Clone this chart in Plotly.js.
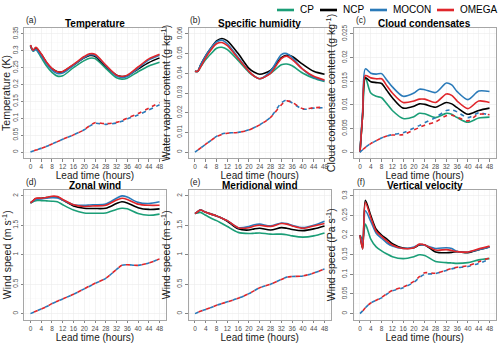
<!DOCTYPE html>
<html>
<head>
<meta charset="utf-8">
<script src="https://cdn.plot.ly/plotly-3.0.1.min.js"></script>
<style>html,body{margin:0;padding:0;background:#fff}#chart{width:500px;height:343px}</style>
</head>
<body>
<div id="chart"></div>
<script>
// lead times (hours) the curves were read at
var lead = [0, 1, 2, 4, 6, 8, 10, 12, 16, 20, 22, 24, 28, 32, 34, 36, 40, 44, 48];

// (a) temperature (K)
var tempCP    = [0.314, 0.299, 0.304, 0.280, 0.255, 0.236, 0.225, 0.226, 0.250, 0.271, 0.278, 0.277, 0.248, 0.220, 0.216, 0.219, 0.238, 0.255, 0.266];
var tempNCP   = [0.316, 0.301, 0.309, 0.290, 0.265, 0.247, 0.238, 0.238, 0.258, 0.279, 0.286, 0.284, 0.254, 0.228, 0.224, 0.226, 0.246, 0.265, 0.279];
var tempMOCON = [0.315, 0.300, 0.303, 0.285, 0.262, 0.243, 0.233, 0.234, 0.257, 0.280, 0.288, 0.287, 0.256, 0.225, 0.221, 0.224, 0.248, 0.273, 0.287];
var tempOMEGA = [0.317, 0.302, 0.310, 0.291, 0.266, 0.248, 0.238, 0.239, 0.260, 0.283, 0.291, 0.290, 0.258, 0.228, 0.224, 0.228, 0.252, 0.276, 0.290];
var tempMOCONd = [0, 0.003, 0.006, 0.011, 0.017, 0.024, 0.031, 0.038, 0.051, 0.066, 0.077, 0.085, 0.082, 0.086, 0.091, 0.098, 0.110, 0.125, 0.140];
var tempOMEGAd = [0, 0.003, 0.006, 0.011, 0.017, 0.024, 0.031, 0.038, 0.051, 0.066, 0.078, 0.087, 0.084, 0.088, 0.093, 0.101, 0.114, 0.130, 0.147];

// (b) specific humidity
var qCP    = [0.041, 0.041, 0.043, 0.047, 0.050, 0.0527, 0.0532, 0.052, 0.0465, 0.0405, 0.0385, 0.0372, 0.040, 0.0443, 0.0447, 0.0438, 0.040, 0.0375, 0.0358];
var qNCP   = [0.041, 0.041, 0.044, 0.049, 0.053, 0.0565, 0.0577, 0.0565, 0.050, 0.0425, 0.0405, 0.0395, 0.0415, 0.048, 0.0492, 0.0485, 0.0445, 0.041, 0.0395];
var qMOCON = [0.041, 0.041, 0.044, 0.049, 0.053, 0.056, 0.0568, 0.055, 0.048, 0.041, 0.0385, 0.0372, 0.041, 0.0495, 0.050, 0.048, 0.042, 0.038, 0.0362];
var qOMEGA = [0.041, 0.041, 0.043, 0.048, 0.052, 0.055, 0.0556, 0.054, 0.0475, 0.041, 0.0385, 0.0372, 0.040, 0.0475, 0.0487, 0.047, 0.042, 0.0385, 0.0366];
var qMOCONd = [0, 0.001, 0.002, 0.004, 0.006, 0.008, 0.0092, 0.0097, 0.010, 0.0113, 0.0125, 0.0139, 0.0177, 0.025, 0.0265, 0.025, 0.0218, 0.0223, 0.0226];
var qOMEGAd = [0, 0.001, 0.002, 0.004, 0.006, 0.0078, 0.009, 0.0096, 0.010, 0.0112, 0.0124, 0.0138, 0.0176, 0.024, 0.026, 0.0252, 0.022, 0.0225, 0.0228];

// (c) cloud condensates
var cwCP    = [0, 0.008, 0.0158, 0.0125, 0.0118, 0.0115, 0.0102, 0.0088, 0.0071, 0.0075, 0.0082, 0.0081, 0.0073, 0.0082, 0.0080, 0.0073, 0.0063, 0.0072, 0.0074];
var cwNCP   = [0, 0.008, 0.0157, 0.0149, 0.0147, 0.0145, 0.0130, 0.0115, 0.0093, 0.0097, 0.0102, 0.0101, 0.0095, 0.0105, 0.0102, 0.0094, 0.0080, 0.0088, 0.0093];
var cwMOCON = [0, 0.009, 0.0176, 0.0167, 0.0165, 0.0166, 0.0152, 0.0138, 0.0118, 0.0125, 0.0133, 0.0132, 0.0126, 0.0146, 0.0142, 0.0128, 0.0111, 0.0129, 0.0128];
var cwOMEGA = [0, 0.008, 0.0162, 0.0157, 0.0155, 0.0155, 0.0140, 0.0125, 0.0105, 0.0108, 0.0112, 0.0112, 0.0105, 0.0123, 0.0120, 0.0108, 0.0092, 0.0108, 0.0105];
var cwMOCONd = [0, 0.0005, 0.001, 0.0018, 0.0024, 0.003, 0.0034, 0.0037, 0.0041, 0.0051, 0.0056, 0.0062, 0.0073, 0.0088, 0.0089, 0.0085, 0.0073, 0.0083, 0.0078];
var cwOMEGAd = [0, 0.0005, 0.001, 0.0018, 0.0024, 0.003, 0.0034, 0.0036, 0.0037, 0.0047, 0.0052, 0.0057, 0.0064, 0.0077, 0.0078, 0.0074, 0.0066, 0.0080, 0.0079];

// (d) zonal wind
var uCP    = [1.88, 1.90, 1.92, 1.92, 1.915, 1.91, 1.90, 1.85, 1.76, 1.71, 1.705, 1.705, 1.71, 1.77, 1.79, 1.78, 1.70, 1.67, 1.69];
var uNCP   = [1.88, 1.92, 1.95, 1.96, 1.97, 1.985, 1.98, 1.93, 1.83, 1.79, 1.785, 1.785, 1.79, 1.87, 1.90, 1.88, 1.80, 1.77, 1.78];
var uMOCON = [1.88, 1.91, 1.94, 1.95, 1.96, 1.97, 1.965, 1.93, 1.85, 1.84, 1.845, 1.85, 1.86, 1.96, 2.00, 1.98, 1.89, 1.87, 1.90];
var uOMEGA = [1.88, 1.92, 1.96, 1.96, 1.975, 1.995, 1.99, 1.94, 1.85, 1.82, 1.825, 1.83, 1.84, 1.93, 1.96, 1.94, 1.86, 1.84, 1.84];
var uMOCONd = [0, 0.02, 0.04, 0.08, 0.12, 0.17, 0.21, 0.25, 0.33, 0.42, 0.465, 0.51, 0.60, 0.75, 0.82, 0.83, 0.82, 0.86, 0.93];
var uOMEGAd = [0, 0.02, 0.04, 0.08, 0.12, 0.17, 0.21, 0.25, 0.33, 0.42, 0.47, 0.515, 0.60, 0.75, 0.82, 0.83, 0.82, 0.86, 0.93];

// (e) meridional wind
var vCP    = [1.70, 1.71, 1.72, 1.67, 1.62, 1.58, 1.53, 1.48, 1.38, 1.36, 1.365, 1.37, 1.35, 1.35, 1.34, 1.32, 1.30, 1.32, 1.37];
var vNCP   = [1.70, 1.73, 1.76, 1.72, 1.69, 1.66, 1.62, 1.57, 1.44, 1.42, 1.44, 1.45, 1.42, 1.46, 1.45, 1.43, 1.41, 1.44, 1.49];
var vMOCON = [1.70, 1.73, 1.76, 1.72, 1.69, 1.66, 1.62, 1.58, 1.46, 1.48, 1.51, 1.52, 1.49, 1.54, 1.53, 1.50, 1.46, 1.50, 1.57];
var vOMEGA = [1.70, 1.73, 1.76, 1.72, 1.69, 1.66, 1.62, 1.58, 1.46, 1.46, 1.49, 1.50, 1.48, 1.53, 1.52, 1.49, 1.45, 1.49, 1.53];
var vMOCONd = [0, 0.02, 0.04, 0.07, 0.105, 0.14, 0.17, 0.20, 0.26, 0.34, 0.39, 0.44, 0.50, 0.58, 0.62, 0.63, 0.64, 0.69, 0.76];
var vOMEGAd = [0, 0.02, 0.04, 0.07, 0.105, 0.14, 0.17, 0.20, 0.26, 0.34, 0.39, 0.44, 0.50, 0.58, 0.62, 0.63, 0.64, 0.69, 0.76];

// (f) vertical velocity
var wCP    = [0.20, 0.19, 0.228, 0.19, 0.17, 0.16, 0.152, 0.145, 0.140, 0.145, 0.150, 0.148, 0.133, 0.130, 0.129, 0.128, 0.130, 0.137, 0.140];
var wNCP   = [0.20, 0.165, 0.289, 0.25, 0.215, 0.200, 0.190, 0.178, 0.167, 0.168, 0.175, 0.175, 0.157, 0.155, 0.156, 0.158, 0.155, 0.163, 0.170];
var wMOCON = [0.20, 0.18, 0.262, 0.235, 0.205, 0.192, 0.180, 0.172, 0.166, 0.170, 0.176, 0.174, 0.166, 0.168, 0.166, 0.158, 0.157, 0.163, 0.170];
var wOMEGA = [0.20, 0.165, 0.283, 0.245, 0.210, 0.197, 0.185, 0.175, 0.166, 0.168, 0.177, 0.175, 0.162, 0.163, 0.161, 0.158, 0.157, 0.165, 0.172];
var wMOCONd = [0, 0.007, 0.015, 0.027, 0.034, 0.040, 0.050, 0.058, 0.066, 0.080, 0.092, 0.100, 0.102, 0.110, 0.114, 0.117, 0.120, 0.128, 0.138];
var wOMEGAd = [0, 0.007, 0.015, 0.027, 0.034, 0.041, 0.051, 0.059, 0.068, 0.082, 0.094, 0.104, 0.103, 0.111, 0.115, 0.118, 0.122, 0.132, 0.142];

var experiments = ['CP', 'NCP', 'MOCON', 'OMEGA'];
var colours = ['#1b9e77', '#000000', '#2a7ab9', '#e0262b'];

var panelLetters = ['(a)', '(b)', '(c)', '(d)', '(e)', '(f)'];
var panelTitles = ['Temperature', 'Specific humidity', 'Cloud condensates', 'Zonal wind', 'Meridional wind', 'Vertical velocity'];
var yTitles = ['Temperature (K)', 'Water vapour content (g kg<sup>-1</sup>)', 'Cloud condensate content (g kg<sup>-1</sup>)',
               'Wind speed (m s<sup>-1</sup>)', 'Wind speed (m s<sup>-1</sup>)', 'Wind speed (Pa s<sup>-1</sup>)'];
var yRanges = [[-0.0175, 0.3675], [-0.003, 0.063], [-0.00125, 0.02625], [-0.1, 2.1], [-0.1, 2.1], [-0.015, 0.315]];
var yDticks = [0.05, 0.01, 0.005, 0.5, 0.5, 0.05];

var solidSets = [
    [tempCP, tempNCP, tempMOCON, tempOMEGA],
    [qCP, qNCP, qMOCON, qOMEGA],
    [cwCP, cwNCP, cwMOCON, cwOMEGA],
    [uCP, uNCP, uMOCON, uOMEGA],
    [vCP, vNCP, vMOCON, vOMEGA],
    [wCP, wNCP, wMOCON, wOMEGA]
];
var dashedSets = [
    [tempMOCONd, tempOMEGAd],
    [qMOCONd, qOMEGAd],
    [cwMOCONd, cwOMEGAd],
    [uMOCONd, uOMEGAd],
    [vMOCONd, vOMEGAd],
    [wMOCONd, wOMEGAd]
];

// panel boxes in pixels: [left, right] and [top, bottom]
var W = 500, H = 343;
var cols = [[24, 166], [188.5, 331], [353.5, 496]];
var rows = [[28, 158], [190, 319.5]];
var font = 'Liberation Sans, Arial, Helvetica, sans-serif';

// legend row across the top (key line start, label start), in pixels
var keyLineX = [277, 320, 370, 437];
var keyTextX = [298, 341, 391, 458];
var keyY = 10;

var data = [];
var layout = {
    width: W,
    height: H,
    margin: {l: 0, r: 0, t: 0, b: 0},
    paper_bgcolor: '#fff',
    plot_bgcolor: '#fff',
    font: {family: font, color: '#000'},
    showlegend: false,
    annotations: [],
    shapes: []
};

experiments.forEach(function(name, k) {
    layout.shapes.push({
        type: 'line', xref: 'paper', yref: 'paper',
        x0: keyLineX[k] / W, x1: (keyLineX[k] + 17) / W,
        y0: 1 - keyY / H, y1: 1 - keyY / H,
        line: {color: colours[k], width: 2.6}
    });
    layout.annotations.push({
        xref: 'paper', yref: 'paper',
        x: keyTextX[k] / W, y: 1 - keyY / H,
        xanchor: 'left', yanchor: 'middle',
        text: name, showarrow: false,
        font: {size: 10, color: '#000'}
    });
});

for (var i = 0; i < 6; i++) {
    var n = i == 0 ? '' : String(i + 1);
    var col = cols[i % 3], row = rows[Math.floor(i / 3)];

    solidSets[i].forEach(function(vals, k) {
        data.push({
            x: lead, y: vals, xaxis: 'x' + n, yaxis: 'y' + n,
            type: 'scatter', mode: 'lines',
            name: experiments[k],
            line: {color: colours[k], width: 1.6, shape: 'spline', smoothing: 0.8},
            hoverinfo: 'skip'
        });
    });
    // dashed: blue underneath, red on top with the dashes shifted
    var dashes = ['4px,4px', '0px,4px,4px,0px'];
    dashedSets[i].forEach(function(vals, k) {
        data.push({
            x: lead, y: vals, xaxis: 'x' + n, yaxis: 'y' + n,
            type: 'scatter', mode: 'lines',
            name: experiments[k + 2],
            line: {color: colours[k + 2], width: 1.6, dash: dashes[k], shape: 'spline', smoothing: 0.8},
            hoverinfo: 'skip'
        });
    });

    layout['xaxis' + n] = {
        domain: [col[0] / W, col[1] / W],
        anchor: 'y' + n,
        range: [-2.4, 50.4],
        tick0: 0, dtick: 4,
        ticks: 'outside', ticklen: 2.5, tickwidth: 0.6, tickcolor: '#333',
        tickfont: {size: 6.5, color: '#4d4d4d'},
        showgrid: true, gridcolor: '#ebebeb', gridwidth: 0.6,
        minor: {dtick: 2, tick0: 0, showgrid: true, gridcolor: '#f6f6f6', gridwidth: 0.4},
        showline: true, linecolor: '#a6a6a6', linewidth: 1, mirror: true,
        zeroline: false, fixedrange: true,
        title: {text: 'Lead time (hours)', font: {size: 10, color: '#1a1a1a'}, standoff: 0}
    };
    layout['yaxis' + n] = {
        domain: [1 - row[1] / H, 1 - row[0] / H],
        anchor: 'x' + n,
        range: yRanges[i],
        tick0: 0, dtick: yDticks[i],
        tickangle: -90,
        ticks: 'outside', ticklen: 2.5, tickwidth: 0.6, tickcolor: '#333',
        tickfont: {size: 6.5, color: '#4d4d4d'},
        showgrid: true, gridcolor: '#ebebeb', gridwidth: 0.6,
        minor: {dtick: yDticks[i] / 2, tick0: 0, showgrid: true, gridcolor: '#f6f6f6', gridwidth: 0.4},
        showline: true, linecolor: '#a6a6a6', linewidth: 1, mirror: true,
        zeroline: false, fixedrange: true,
        title: {text: yTitles[i], font: {size: 10.5, color: '#1a1a1a'}, standoff: 3}
    };

    layout.annotations.push({
        xref: 'paper', yref: 'paper',
        x: (col[0] + col[1]) / 2 / W, y: 1 - (row[0] - 4.5) / H,
        xanchor: 'center', yanchor: 'middle',
        text: '<b>' + panelTitles[i] + '</b>', showarrow: false,
        font: {size: 10, color: '#000'}
    });
    layout.annotations.push({
        xref: 'paper', yref: 'paper',
        x: (col[0] + 7) / W, y: 1 - (row[0] - 8) / H,
        xanchor: 'center', yanchor: 'middle',
        text: panelLetters[i], showarrow: false,
        font: {size: 8.5, color: '#1a1a1a'}
    });
}

Plotly.newPlot('chart', data, layout, {staticPlot: true});
</script>
</body>
</html>
